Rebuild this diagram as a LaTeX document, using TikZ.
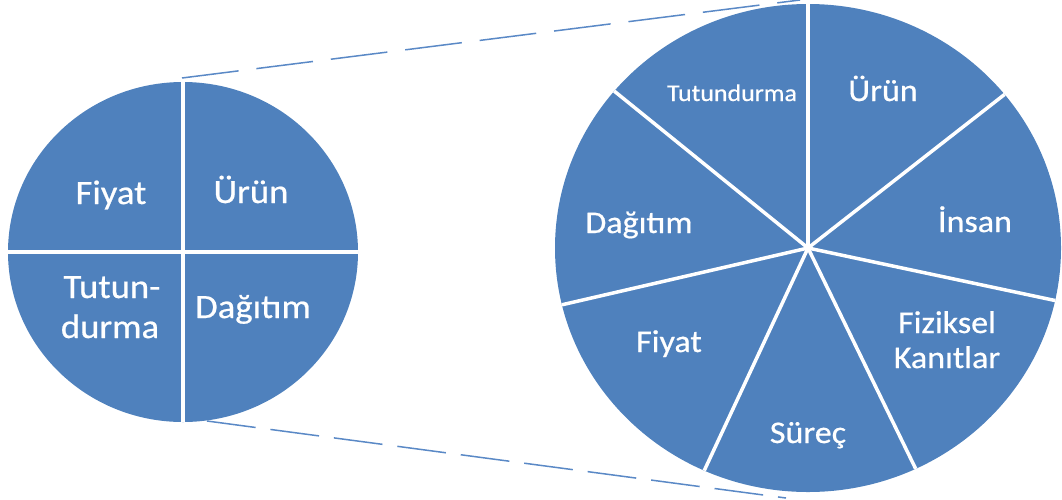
\documentclass[tikz,border=0pt]{standalone}
\usepackage{fontspec}
\setmainfont{Carlito}[FakeStretch=1.08, FakeBold=0.6]
\usetikzlibrary{shapes.geometric}
\definecolor{pieblue}{HTML}{4F81BD}
\definecolor{linkblue}{HTML}{5A89C6}
\begin{document}
\begin{tikzpicture}[x=1pt,y=-1pt,
  disc/.style={ellipse, fill=pieblue, inner sep=0pt, outer sep=0pt},
  divider/.style={draw=white, line width=3.5pt},
  link/.style={draw=linkblue, line width=1.5pt},
  lbig/.style={text=white, anchor=base, inner sep=0pt, font=\fontsize{34}{40}\selectfont},
  lmid/.style={text=white, anchor=base, inner sep=0pt, font=\fontsize{31.5}{36}\selectfont},
  lsmall/.style={text=white, anchor=base, inner sep=0pt, font=\fontsize{24}{28}\selectfont}]
\useasboundingbox (0,0) rectangle (1062,499);

% dashed zoom lines joining the two discs
\coordinate (topA) at (182,78);
\coordinate (topB) at (800,0);
\coordinate (botA) at (207,421);
\coordinate (botB) at (786,498);
\draw[link, dash pattern=on 57pt off 18pt] (topA) -- (topB);
\draw[link, dash pattern=on 49pt off 15pt] (botA) -- (botB);

% small disc: four quarters
\node[disc, minimum width=350pt, minimum height=340pt] (small) at (183,252) {};
\draw[divider] (small.north) -- (small.south);
\draw[divider] (small.west) -- (small.east);

\node[lbig] (s-fiyat) at (111,204) {Fiyat};
\node[lbig] (s-urun) at (251,203) {Ürün};
\node[lbig] (s-tutun1) at (112,298) {Tutun-};
\node[lbig] (s-tutun2) at (110,338) {durma};
\node[lbig] (s-dagitim) at (253,318) {Dağıtım};

% large disc: seven equal sectors
\node[disc, minimum width=506pt, minimum height=488pt] (big) at (808,248) {};
\foreach \a in {90, 38.57, -12.86, -64.29, -115.71, -167.14, 141.43}
  \draw[divider] (big.center) -- (big.\a);

\node[lsmall] (b-tutundurma) at (732,101) {Tutundurma};
\node[lmid] (b-urun) at (883,101) {Ürün};
\node[lmid] (b-insan) at (975,232) {İnsan};
\node[lmid] (b-fiziksel) at (947,333) {Fiziksel};
\node[lmid] (b-kanitlar) at (947,368) {Kanıtlar};
\node[lmid] (b-surec) at (808,443) {Süreç};
\node[lmid] (b-fiyat) at (669,352) {Fiyat};
\node[lmid] (b-dagitim) at (639,233) {Dağıtım};
\end{tikzpicture}
\end{document}
